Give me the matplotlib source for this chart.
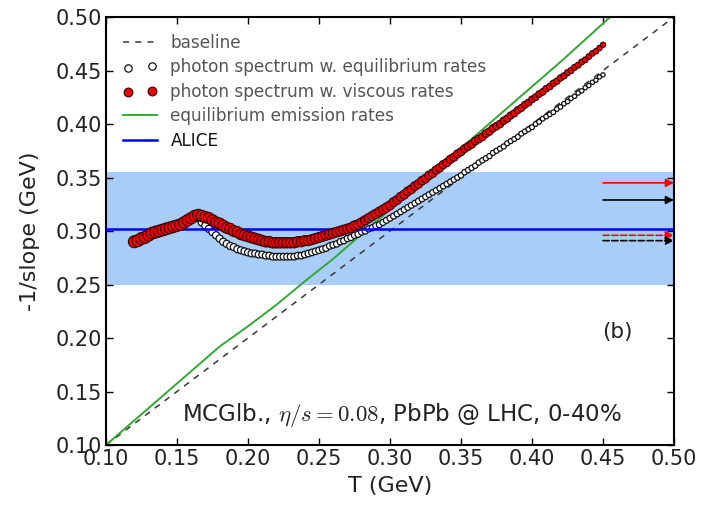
import numpy as np
import matplotlib
matplotlib.use("Agg")
import matplotlib.pyplot as plt

plt.rcParams['mathtext.fontset'] = 'cm'

# ---------------- data ----------------
T_base = [0.10, 0.50]
v_base = [0.10, 0.50]

T_green = [0.10, 0.12, 0.14, 0.16, 0.18, 0.20, 0.22, 0.24, 0.26, 0.28, 0.30,
           0.32, 0.34, 0.36, 0.38, 0.40, 0.42, 0.44, 0.46]
v_green = [0.100, 0.123, 0.146, 0.169, 0.192, 0.211, 0.231, 0.253, 0.274, 0.297, 0.320,
           0.343, 0.366, 0.389, 0.412, 0.435, 0.458, 0.482, 0.506]

T_pts = [0.1200, 0.1225, 0.1250, 0.1275, 0.1300, 0.1325, 0.1350, 0.1375, 0.1400, 0.1425,
         0.1450, 0.1475, 0.1500, 0.1525, 0.1550, 0.1575, 0.1600, 0.1625, 0.1650, 0.1675,
         0.1700, 0.1725, 0.1750, 0.1775, 0.1800, 0.1825, 0.1850, 0.1875, 0.1900, 0.1925,
         0.1950, 0.1975, 0.2000, 0.2025, 0.2050, 0.2075, 0.2100, 0.2125, 0.2150, 0.2175,
         0.2200, 0.2225, 0.2250, 0.2275, 0.2300, 0.2325, 0.2350, 0.2375, 0.2400, 0.2425,
         0.2450, 0.2475, 0.2500, 0.2525, 0.2550, 0.2575, 0.2600, 0.2625, 0.2650, 0.2675,
         0.2700, 0.2725, 0.2750, 0.2775, 0.2800, 0.2825, 0.2850, 0.2875, 0.2900, 0.2925,
         0.2950, 0.2975, 0.3000, 0.3025, 0.3050, 0.3075, 0.3100, 0.3125, 0.3150, 0.3175,
         0.3200, 0.3225, 0.3250, 0.3275, 0.3300, 0.3325, 0.3350, 0.3375, 0.3400, 0.3425,
         0.3450, 0.3475, 0.3500, 0.3525, 0.3550, 0.3575, 0.3600, 0.3625, 0.3650, 0.3675,
         0.3700, 0.3725, 0.3750, 0.3775, 0.3800, 0.3825, 0.3850, 0.3875, 0.3900, 0.3925,
         0.3950, 0.3975, 0.4000, 0.4025, 0.4050, 0.4075, 0.4100, 0.4125, 0.4150, 0.4175,
         0.4200, 0.4225, 0.4250, 0.4275, 0.4300, 0.4325, 0.4350, 0.4375, 0.4400, 0.4425,
         0.4450, 0.4475, 0.4500]

v_visc = [0.290, 0.291, 0.293, 0.294, 0.296, 0.298, 0.299, 0.300, 0.301, 0.302,
          0.303, 0.304, 0.305, 0.306, 0.308, 0.310, 0.312, 0.314, 0.315, 0.314,
          0.313, 0.312, 0.310, 0.308, 0.307, 0.305, 0.303, 0.302, 0.300, 0.299,
          0.297, 0.296, 0.295, 0.294, 0.293, 0.292, 0.291, 0.290, 0.290, 0.289,
          0.289, 0.289, 0.289, 0.289, 0.289, 0.289, 0.290, 0.290, 0.291, 0.291,
          0.292, 0.293, 0.294, 0.295, 0.296, 0.297, 0.298, 0.299, 0.300, 0.301,
          0.302, 0.303, 0.305, 0.306, 0.308, 0.310, 0.312, 0.314, 0.316, 0.318,
          0.320, 0.322, 0.324, 0.327, 0.329, 0.332, 0.334, 0.337, 0.339, 0.342,
          0.344, 0.347, 0.349, 0.352, 0.354, 0.357, 0.359, 0.362, 0.364, 0.367,
          0.369, 0.372, 0.374, 0.377, 0.379, 0.381, 0.384, 0.386, 0.388, 0.391,
          0.393, 0.396, 0.398, 0.400, 0.403, 0.405, 0.408, 0.410, 0.413, 0.415,
          0.418, 0.420, 0.423, 0.425, 0.428, 0.430, 0.433, 0.435, 0.438, 0.440,
          0.443, 0.445, 0.448, 0.450, 0.453, 0.455, 0.458, 0.460, 0.463, 0.466,
          0.468, 0.471, 0.474]

v_equil = [0.290, 0.291, 0.293, 0.294, 0.296, 0.298, 0.299, 0.300, 0.301, 0.302,
           0.303, 0.304, 0.305, 0.306, 0.308, 0.310, 0.311, 0.313, 0.312, 0.308,
           0.305, 0.302, 0.299, 0.296, 0.293, 0.290, 0.288, 0.286, 0.285, 0.283,
           0.282, 0.281, 0.280, 0.279, 0.279, 0.278, 0.278, 0.277, 0.277, 0.276,
           0.276, 0.276, 0.276, 0.276, 0.276, 0.276, 0.277, 0.277, 0.278, 0.279,
           0.280, 0.281, 0.282, 0.283, 0.284, 0.286, 0.287, 0.288, 0.290, 0.291,
           0.293, 0.294, 0.296, 0.297, 0.299, 0.300, 0.302, 0.303, 0.305, 0.306,
           0.308, 0.310, 0.312, 0.314, 0.316, 0.318, 0.320, 0.322, 0.324, 0.326,
           0.328, 0.330, 0.332, 0.334, 0.336, 0.338, 0.340, 0.342, 0.344, 0.346,
           0.348, 0.350, 0.352, 0.355, 0.357, 0.359, 0.361, 0.364, 0.366, 0.368,
           0.370, 0.373, 0.375, 0.377, 0.379, 0.382, 0.384, 0.386, 0.388, 0.391,
           0.393, 0.395, 0.397, 0.400, 0.402, 0.405, 0.407, 0.409, 0.411, 0.414,
           0.416, 0.419, 0.421, 0.424, 0.426, 0.429, 0.431, 0.434, 0.436, 0.439,
           0.441, 0.444, 0.446]

alice_value = 0.302
alice_band = [0.250, 0.355]

arrow_values = [0.345, 0.329, 0.296, 0.291]
arrow_colors = ['red', 'black', 'red', 'black']
arrow_styles = ['-', '-', '--', '--']

labels = ["baseline",
          "photon spectrum w. equilibrium rates",
          "photon spectrum w. viscous rates",
          "equilibrium emission rates",
          "ALICE"]

xticks = [0.10, 0.15, 0.20, 0.25, 0.30, 0.35, 0.40, 0.45, 0.50]
yticks = [0.10, 0.15, 0.20, 0.25, 0.30, 0.35, 0.40, 0.45, 0.50]

# ---------------- figure ----------------
fig = plt.figure(figsize=(7.08, 5.05), dpi=100)
ax = fig.add_axes([0.1497, 0.1188, 0.8023, 0.8475])

ax.axhspan(alice_band[0], alice_band[1], color='#a9cdf9', lw=0, zorder=0)

l_base, = ax.plot(T_base, v_base, ls='--', color='#383838', lw=1.1,
                  dashes=(4, 4), zorder=2)
l_green, = ax.plot(T_green, v_green, color='#33a833', lw=1.4, zorder=2)
l_alice = ax.axhline(alice_value, color='#0000ff', lw=1.8, zorder=4)

n = len(T_pts)
frac = np.linspace(0, 1, n)
s_white = 30 - 21 * frac
s_red = 75 - 60 * frac
sc_w = ax.scatter(T_pts, v_equil, s=s_white, facecolor='white',
                  edgecolor='#111111', linewidth=0.9, zorder=3)
sc_r = ax.scatter(T_pts, v_visc, s=s_red, facecolor='#ee0000',
                  edgecolor='#330000', linewidth=0.8, zorder=5)

for v, c, ls in zip(arrow_values, arrow_colors, arrow_styles):
    ax.annotate('', xy=(0.5, v), xytext=(0.45, v),
                arrowprops=dict(arrowstyle='-|>', color=c, lw=1.2,
                                linestyle=ls, mutation_scale=12,
                                shrinkA=0, shrinkB=0),
                zorder=6, annotation_clip=False)

ax.set_xlim(0.10, 0.50)
ax.set_ylim(0.10, 0.50)
ax.set_xticks(xticks)
ax.set_yticks(yticks)
ax.set_xticklabels([f"{t:.2f}" for t in xticks])
ax.set_yticklabels([f"{t:.2f}" for t in yticks])
ax.tick_params(direction='in', top=True, right=True, length=5, width=1,
               labelsize=15, colors='black', labelcolor='#222222', pad=3)
for sp in ax.spines.values():
    sp.set_linewidth(1.5)

ax.set_xlabel("T (GeV)", fontsize=16, color='#222222', labelpad=5)
ax.set_ylabel("-1/slope (GeV)", fontsize=16, color='#222222', labelpad=11)

ax.text(0.3085, 0.128, r"MCGlb., $\eta/s=0.08$, PbPb @ LHC, 0-40%",
        fontsize=16.5, ha='center', va='center', color='#222222')
ax.text(0.46, 0.2056, "(b)", fontsize=15.5, ha='center', va='center',
        color='#222222')

leg = ax.legend([l_base, sc_w, sc_r, l_green, l_alice], labels,
                loc='upper left', frameon=False, fontsize=12.2,
                scatterpoints=2, markerscale=1.0, handlelength=2.0,
                labelspacing=0.38, borderaxespad=0.6, handletextpad=0.8)
for i, txt in enumerate(leg.get_texts()):
    txt.set_color('#555555' if i < 4 else '#111111')
leg.legend_handles[1].set_sizes([28])
leg.legend_handles[2].set_sizes([40])

fig.savefig("out.png", dpi=100)
